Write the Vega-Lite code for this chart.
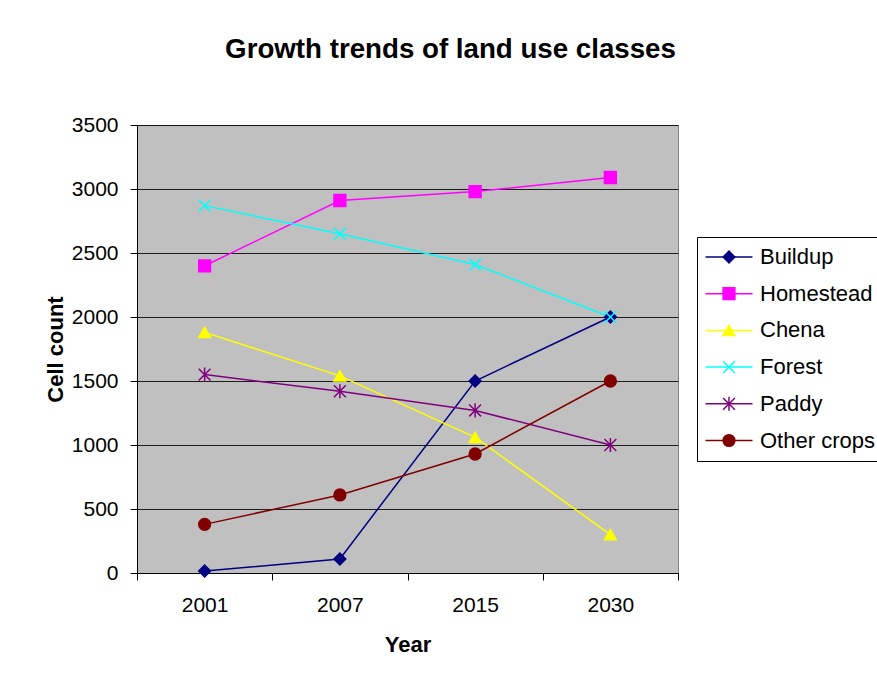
{
  "$schema": "https://vega.github.io/schema/vega-lite/v6.json",
  "width": 541,
  "height": 448,
  "autosize": {"type": "none"},
  "padding": {"left": 137, "top": 125, "right": 199, "bottom": 109},
  "background": "white",
  "title": {
    "text": "Growth trends of land use classes",
    "anchor": "middle",
    "dx": 43,
    "offset": 50,
    "fontSize": 27.7,
    "font": "Liberation Sans",
    "fontWeight": "bold",
    "color": "black"
  },
  "config": {
    "view": {"fill": "#C0C0C0", "stroke": "#808080", "strokeWidth": 1}
  },
  "data": {
    "values": [
      {"year": "2001", "series": "Buildup", "value": 15},
      {"year": "2007", "series": "Buildup", "value": 110},
      {"year": "2015", "series": "Buildup", "value": 1500},
      {"year": "2030", "series": "Buildup", "value": 2000},
      {"year": "2001", "series": "Homestead", "value": 2400},
      {"year": "2007", "series": "Homestead", "value": 2910},
      {"year": "2015", "series": "Homestead", "value": 2980},
      {"year": "2030", "series": "Homestead", "value": 3090},
      {"year": "2001", "series": "Chena", "value": 1880},
      {"year": "2007", "series": "Chena", "value": 1540},
      {"year": "2015", "series": "Chena", "value": 1060},
      {"year": "2030", "series": "Chena", "value": 300},
      {"year": "2001", "series": "Forest", "value": 2870},
      {"year": "2007", "series": "Forest", "value": 2650},
      {"year": "2015", "series": "Forest", "value": 2410},
      {"year": "2030", "series": "Forest", "value": 2000},
      {"year": "2001", "series": "Paddy", "value": 1550},
      {"year": "2007", "series": "Paddy", "value": 1420},
      {"year": "2015", "series": "Paddy", "value": 1270},
      {"year": "2030", "series": "Paddy", "value": 1000},
      {"year": "2001", "series": "Other crops", "value": 380},
      {"year": "2007", "series": "Other crops", "value": 610},
      {"year": "2015", "series": "Other crops", "value": 930},
      {"year": "2030", "series": "Other crops", "value": 1500}
    ]
  },
  "encoding": {
    "x": {
      "field": "year",
      "type": "ordinal",
      "bandPosition": 0.5,
      "scale": {"type": "band", "paddingInner": 0, "paddingOuter": 0},
      "axis": {
        "title": "Year",
        "titleFont": "Liberation Sans",
        "titleFontSize": 22,
        "titleFontWeight": "bold",
        "titleColor": "black",
        "titlePadding": 19,
        "labelFont": "Liberation Sans",
        "labelFontSize": 21,
        "labelColor": "black",
        "labelAngle": 0,
        "labelPadding": 14,
        "tickBand": "extent",
        "tickSize": 7,
        "tickColor": "black",
        "domainColor": "black",
        "grid": false
      }
    },
    "y": {
      "field": "value",
      "type": "quantitative",
      "scale": {"domain": [0, 3500], "nice": false},
      "axis": {
        "title": "Cell count",
        "titleFont": "Liberation Sans",
        "titleFontSize": 22,
        "titleFontWeight": "bold",
        "titleColor": "black",
        "titlePadding": 4,
        "labelFont": "Liberation Sans",
        "labelFontSize": 21,
        "labelColor": "black",
        "labelPadding": 12,
        "values": [0, 500, 1000, 1500, 2000, 2500, 3000, 3500],
        "format": "d",
        "tickSize": 7,
        "tickColor": "black",
        "domainColor": "black",
        "grid": true,
        "gridColor": "black",
        "gridOpacity": 0.85
      }
    }
  },
  "layer": [
    {
      "mark": {"type": "line", "strokeWidth": 1.5},
      "encoding": {
        "color": {
          "field": "series",
          "type": "nominal",
          "sort": ["Buildup", "Homestead", "Chena", "Forest", "Paddy", "Other crops"],
          "scale": {
            "range": ["#000080", "#FF00FF", "#FFFF00", "#00FFFF", "#800080", "#800000"]
          },
          "legend": {
            "orient": "none",
            "legendX": 560,
            "legendY": 112,
            "title": null,
            "fillColor": "white",
            "strokeColor": "black",
            "padding": 9,
            "symbolType": "M-4,0H4",
            "symbolSize": 138,
            "symbolStrokeWidth": 1.5,
            "symbolOffset": 12,
            "labelOffset": 20,
            "labelFont": "Liberation Sans",
            "labelFontSize": 22,
            "labelColor": "black",
            "rowPadding": 14.7,
            "zindex": 0
          }
        }
      }
    },
    {
      "mark": {"type": "point", "filled": true, "size": 140, "strokeWidth": 1.5, "opacity": 1},
      "encoding": {
        "fill": {
          "field": "series",
          "type": "nominal",
          "scale": {
            "domain": ["Buildup", "Homestead", "Chena", "Forest", "Paddy", "Other crops"],
            "range": ["#000080", "#FF00FF", "#FFFF00", "#00FFFF", "#800080", "#800000"]
          },
          "legend": {
            "orient": "none",
            "legendX": 560,
            "legendY": 112,
            "title": null,
            "fillColor": "transparent",
            "strokeColor": "transparent",
            "padding": 9,
            "symbolSize": 138,
            "symbolStrokeWidth": 1.5,
            "symbolOffset": 12,
            "labelOffset": 20,
            "labelFont": "Liberation Sans",
            "labelFontSize": 22,
            "labelColor": "transparent",
            "rowPadding": 14.7,
            "zindex": 1
          }
        },
        "stroke": {
          "field": "series",
          "type": "nominal",
          "scale": {
            "domain": ["Buildup", "Homestead", "Chena", "Forest", "Paddy", "Other crops"],
            "range": ["#000080", "#FF00FF", "#FFFF00", "#00FFFF", "#800080", "#800000"]
          },
          "legend": {
            "orient": "none",
            "legendX": 560,
            "legendY": 112,
            "title": null,
            "fillColor": "transparent",
            "strokeColor": "transparent",
            "padding": 9,
            "symbolSize": 138,
            "symbolStrokeWidth": 1.5,
            "symbolOffset": 12,
            "labelOffset": 20,
            "labelFont": "Liberation Sans",
            "labelFontSize": 22,
            "labelColor": "transparent",
            "rowPadding": 14.7,
            "zindex": 1
          }
        },
        "shape": {
          "field": "series",
          "type": "nominal",
          "scale": {
            "domain": ["Buildup", "Homestead", "Chena", "Forest", "Paddy", "Other crops"],
            "range": ["diamond", "square", "triangle-up", "M-1,-1L1,1M-1,1L1,-1", "M-1,-1L1,1M-1,1L1,-1M0,-1.2L0,1.2", "circle"]
          },
          "legend": {
            "orient": "none",
            "legendX": 560,
            "legendY": 112,
            "title": null,
            "fillColor": "transparent",
            "strokeColor": "transparent",
            "padding": 9,
            "symbolSize": 138,
            "symbolStrokeWidth": 1.5,
            "symbolOffset": 12,
            "labelOffset": 20,
            "labelFont": "Liberation Sans",
            "labelFontSize": 22,
            "labelColor": "transparent",
            "rowPadding": 14.7,
            "zindex": 1
          }
        }
      }
    }
  ]
}
